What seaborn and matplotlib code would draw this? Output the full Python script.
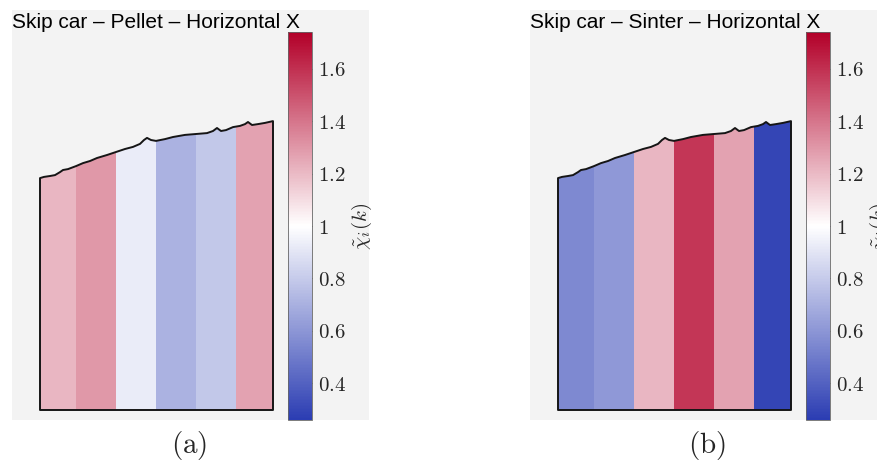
import matplotlib
matplotlib.use("Agg")
import matplotlib.pyplot as plt
import numpy as np
import pandas as pd
import seaborn as sns
from matplotlib.colors import LinearSegmentedColormap
from matplotlib.patches import Rectangle, Polygon

sns.set_style("white")
plt.rcParams["font.family"] = ["Liberation Sans", "DejaVu Sans"]
plt.rcParams["mathtext.fontset"] = "cm"

# ---- data -------------------------------------------------------------
strips = ["1", "2", "3", "4", "5", "6"]
pellet_chi = [1.21, 1.30, 0.93, 0.71, 0.79, 1.27]
sinter_chi = [0.55, 0.61, 1.21, 1.58, 1.27, 0.29]
titles = ["Skip car – Pellet – Horizontal X", "Skip car – Sinter – Horizontal X"]
panel_tags = ["(a)", "(b)"]
cbar_ticks = [0.4, 0.6, 0.8, 1.0, 1.2, 1.4, 1.6]
cbar_ticklabels = ["0.4", "0.6", "0.8", "1", "1.2", "1.4", "1.6"]
chi_min, chi_max = 0.26, 1.74

# load surface of the skip car: position along the car (strip units)
# and height of the surface (fraction of the plotted height)
surface_x = [0.1, 0.2, 0.35, 0.475, 0.6, 0.675, 0.8, 1.0, 1.175, 1.35, 1.525,
             1.775, 2.0, 2.225, 2.425, 2.6, 2.7, 2.775, 2.875, 3.0, 3.225,
             3.425, 3.725, 4.0, 4.275, 4.425, 4.525, 4.625, 4.75, 4.925, 5.1,
             5.225, 5.3, 5.4, 5.55, 5.725, 5.925]
surface_y = [0.773, 0.777, 0.780, 0.783, 0.793, 0.800, 0.803, 0.813, 0.823,
             0.830, 0.840, 0.850, 0.860, 0.870, 0.877, 0.887, 0.900, 0.907,
             0.900, 0.897, 0.903, 0.910, 0.917, 0.920, 0.923, 0.930, 0.940,
             0.930, 0.933, 0.943, 0.947, 0.953, 0.960, 0.950, 0.953, 0.957,
             0.963]

# ---- figure -----------------------------------------------------------
W, H = 877, 466
fig = plt.figure(figsize=(W / 100, H / 100), dpi=100)


def fig_box(x0, y0, x1, y1):
    """Pixel box (top-left origin) -> figure-fraction [l, b, w, h]."""
    return [x0 / W, 1 - y1 / H, (x1 - x0) / W, (y1 - y0) / H]


cmap = LinearSegmentedColormap.from_list(
    "chi", [(0.17, 0.24, 0.70), (1.0, 1.0, 1.0), (0.70, 0.0, 0.16)])

outline = np.column_stack([
    [surface_x[0]] + surface_x + [surface_x[-1]],
    [0.0] + surface_y + [0.0],
])

for k, (values, title, tag) in enumerate(zip([pellet_chi, sinter_chi], titles, panel_tags)):
    dx = 518 * k

    # panel background
    l, b, w, h = fig_box(12 + dx, 10, 369 + dx, 420)
    fig.add_artist(Rectangle((l, b), w, h, transform=fig.transFigure,
                             facecolor="#f3f3f3", edgecolor="none", zorder=-5))

    ax = fig.add_axes(fig_box(36 + dx, 100, 276 + dx, 415))
    cax = fig.add_axes(fig_box(288 + dx, 32, 312 + dx, 420))

    df = pd.DataFrame([values], columns=strips)
    sns.heatmap(df, ax=ax, cmap=cmap, vmin=chi_min, vmax=chi_max,
                cbar=True, cbar_ax=cax, xticklabels=False, yticklabels=False)
    ax.set_xlim(0, 6)
    ax.set_ylim(-5 / 300, 1 + 10 / 300)
    ax.set_axis_off()

    shape = Polygon(outline, closed=True, transform=ax.transData,
                    facecolor="none", edgecolor="#151515", linewidth=1.4,
                    joinstyle="round", zorder=3)
    ax.add_patch(shape)
    mesh = ax.collections[0]
    mesh.set_clip_path(shape)

    cbar = mesh.colorbar
    cbar.set_ticks(cbar_ticks)
    cbar.set_ticklabels([f"${t}$" for t in cbar_ticklabels])
    cax.tick_params(direction="in", length=4, width=0.6, color="#444444",
                    labelsize=15, pad=4, right=True, left=False)
    cbar.outline.set_edgecolor("#666666")
    cbar.outline.set_linewidth(0.6)
    cax.set_ylabel(r"$\tilde{\chi}_i(k)$", fontsize=15, rotation=90, labelpad=3)

    fig.text((12 + dx) / W, 1 - 28 / H, title, fontsize=15,
             ha="left", va="baseline", color="black")
    fig.text((189 + dx) / W, 1 - 445 / H, rf"$\mathrm{{{tag}}}$", fontsize=21,
             ha="center", va="center")

fig.savefig("out.png", dpi=100)
